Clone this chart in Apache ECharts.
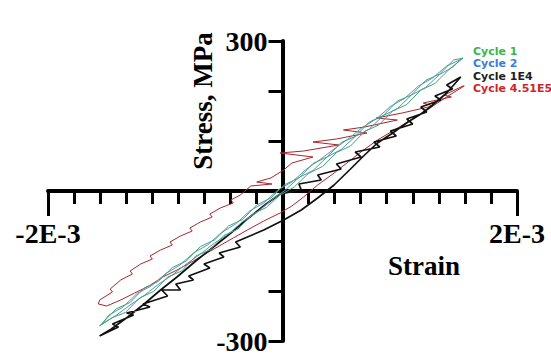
<!DOCTYPE html>
<html>
<head>
<meta charset="utf-8">
<script src="https://cdn.jsdelivr.net/npm/echarts@6/dist/echarts.min.js"></script>
<style>html,body{margin:0;padding:0;background:#fff}#c{width:551px;height:355px}</style>
</head>
<body>
<div id="c"></div>
<script>
// Strain values are in units of 1E-3, stress in MPa
const xTickLabels = ['-2E-3', '2E-3'];
const yTickLabels = ['-300', '300'];
const seriesNames = ['Cycle 1', 'Cycle 2', 'Cycle 1E4', 'Cycle 4.51E5'];

const cycle1Strain = [-1.56,-1.45,-1.34,-1.22,-1.10,-0.98,-0.86,-0.74,-0.62,-0.50,-0.38,-0.26,-0.14,-0.02,0.10,0.22,0.34,0.46,0.58,0.70,0.82,0.94,1.06,1.18,1.30,1.42,1.54,
  1.46,1.34,1.22,1.10,0.98,0.86,0.74,0.62,0.50,0.38,0.26,0.14,0.02,-0.10,-0.22,-0.34,-0.46,-0.58,-0.70,-0.82,-0.94,-1.06,-1.18,-1.30,-1.42,-1.56];
const cycle1Stress = [-270,-253,-243,-214,-201,-172,-160,-130,-118,-89,-76,-47,-33,-8,8,35,49,77,90,119,132,160,173,202,215,243,266,
  262,234,221,192,180,151,138,109,97,68,55,26,13,-14,-28,-57,-70,-98,-111,-140,-153,-181,-194,-223,-236,-270];

const cycle2Strain = [-1.54,-1.42,-1.30,-1.18,-1.06,-0.94,-0.82,-0.70,-0.58,-0.46,-0.34,-0.22,-0.10,0.02,0.14,0.26,0.38,0.50,0.62,0.74,0.86,0.98,1.10,1.22,1.34,1.46,1.52,
  1.40,1.28,1.16,1.04,0.92,0.80,0.68,0.56,0.44,0.32,0.20,0.08,-0.04,-0.16,-0.28,-0.40,-0.52,-0.64,-0.76,-0.88,-1.00,-1.12,-1.24,-1.36,-1.48,-1.54];
const cycle2Stress = [-266,-249,-228,-209,-187,-168,-146,-126,-104,-86,-61,-43,-19,1,27,41,68,83,109,124,151,165,192,207,233,249,263,
  250,226,210,185,169,144,127,104,84,63,43,18,2,-24,-40,-66,-83,-108,-124,-149,-166,-190,-205,-232,-248,-266];

const cycle1E4Strain = [-1.56,-1.40,-1.45,-1.27,-1.33,-1.13,-1.19,-0.98,-1.03,-0.87,-0.91,-0.76,-0.80,-0.62,-0.67,-0.50,-0.54,-0.36,-0.40,-0.16,0.01,0.16,0.30,0.44,0.58,0.70,0.81,0.94,1.07,1.18,1.26,1.40,1.52,
  1.40,1.45,1.30,1.35,1.18,1.23,1.06,1.11,0.92,0.97,0.78,0.83,0.62,0.67,0.46,0.50,0.30,0.33,0.14,0.16,-0.02,-0.14,-0.30,-0.44,-0.60,-0.74,-0.90,-1.04,-1.18,-1.32,-1.46,-1.56];
const cycle1E4Stress = [-290,-272,-266,-248,-244,-232,-226,-210,-198,-198,-186,-178,-170,-154,-146,-132,-124,-112,-102,-78,-58,-38,-14,12,44,72,96,116,138,154,168,196,228,
  212,204,190,182,168,158,144,134,120,110,98,88,78,68,54,44,32,22,14,2,-6,-26,-56,-84,-114,-140,-172,-198,-226,-252,-276,-290];

const cycle451E5Strain = [-1.57,-1.50,-1.38,-1.26,-1.14,-1.02,-0.90,-0.79,-0.66,-0.54,-0.42,-0.30,-0.16,-0.02,0.08,0.18,0.30,0.44,0.56,0.68,0.81,0.94,1.08,1.22,1.36,1.48,1.55,
  1.54,1.38,1.44,1.20,1.28,1.02,0.80,0.98,0.70,0.52,0.72,0.46,0.26,0.48,0.18,-0.02,0.26,0.08,0.01,-0.10,-0.22,-0.09,-0.27,-0.36,
  -0.44,-0.42,-0.53,-0.62,-0.60,-0.70,-0.79,-0.77,-0.87,-0.96,-0.94,-1.04,-1.13,-1.11,-1.21,-1.30,-1.28,-1.38,-1.47,-1.45,-1.56,-1.57];
const cycle451E5Stress = [-226,-230,-218,-204,-190,-172,-158,-144,-126,-110,-94,-78,-60,-44,-30,-12,12,36,58,80,102,120,140,160,182,200,210,
  210,192,188,176,170,156,146,142,128,122,116,104,98,92,80,76,68,56,42,26,18,14,10,-8,
  -18,-24,-34,-46,-52,-62,-74,-80,-90,-102,-108,-118,-130,-136,-146,-160,-166,-178,-196,-202,-218,-226];

const lineColors = ['#3fa56c', '#5a8fc0', '#111111', '#a8262b'];
const legendColors = ['#3cb54a', '#3b7dd8', '#1e1e1e', '#d2232a'];
const lineWidths = [1, 1, 1.7, 1];

// Convert strain (1E-3) into axis units: axis spans -9..9 for -2E-3..2E-3 (tick every 2E-3/9)
const U = 9 / 2;
function pairs(sx, sy) { return sx.map((v, i) => [v * U, sy[i]]); }

const strainSets = [cycle1Strain, cycle2Strain, cycle1E4Strain, cycle451E5Strain];
const stressSets = [cycle1Stress, cycle2Stress, cycle1E4Stress, cycle451E5Stress];
const drawOrder = [3, 2, 1, 0];

const GL = 48, GR = 34, GT = 41, GB = 14, W = 551, H = 355;
const gridW = W - GL - GR, gridH = H - GT - GB;

const serif = '"Liberation Serif", "Times New Roman", serif';
const chart = echarts.init(document.getElementById('c'), null, {renderer: 'svg'});
chart.setOption({
  animation: false,
  backgroundColor: '#fff',
  grid: {left: GL, right: GR, top: GT, bottom: GB, containLabel: false, outerBoundsMode: 'none'},
  xAxis: [
    {type: 'value', min: -9, max: 9, interval: 1, position: 'bottom', offset: -gridH / 2,
     axisLine: {onZero: false, lineStyle: {color: '#000', width: 4}},
     axisTick: {length: 13, lineStyle: {color: '#000', width: 3}},
     axisLabel: {show: false}, splitLine: {show: false}},
    {type: 'value', min: -9, max: 9, interval: 18, position: 'bottom', offset: -gridH / 2,
     axisLine: {show: false, onZero: false},
     axisTick: {length: 25, lineStyle: {color: '#000', width: 3}},
     axisLabel: {margin: 28, color: '#000', fontFamily: serif, fontWeight: 'bold', fontSize: 28,
       formatter: v => v === -9 ? xTickLabels[0] : (v === 9 ? xTickLabels[1] : '')},
     splitLine: {show: false}}
  ],
  yAxis: {type: 'value', min: -300, max: 300, interval: 100, position: 'left', offset: -gridW / 2,
    axisLine: {onZero: false, lineStyle: {color: '#000', width: 4}},
    axisTick: {length: 14, lineStyle: {color: '#000', width: 3}},
    axisLabel: {margin: 15, color: '#000', fontFamily: serif, fontWeight: 'bold', fontSize: 28,
      formatter: v => v === -300 ? yTickLabels[0] : (v === 300 ? yTickLabels[1] : '')},
    splitLine: {show: false}},
  legend: {
    data: seriesNames.map((n, i) => ({name: n, textStyle: {color: legendColors[i]}})),
    orient: 'vertical', left: 468, top: 45, padding: 0,
    icon: 'none', itemWidth: 0, itemHeight: 12, itemGap: 1,
    textStyle: {fontFamily: '"DejaVu Sans", sans-serif', fontWeight: 'bold', fontSize: 11},
    selectedMode: false
  },
  graphic: [
    {type: 'text', x: 203, y: 101, rotation: Math.PI / 2,
     style: {text: 'Stress, MPa', font: 'bold 27px ' + serif, fill: '#000', textAlign: 'center', textVerticalAlign: 'middle'}},
    {type: 'text', x: 424, y: 266,
     style: {text: 'Strain', font: 'bold 27px ' + serif, fill: '#000', textAlign: 'center', textVerticalAlign: 'middle'}}
  ],
  series: drawOrder.map(i => ({
    name: seriesNames[i], type: 'line', xAxisIndex: 0, yAxisIndex: 0,
    data: pairs(strainSets[i], stressSets[i]),
    showSymbol: false, symbol: 'none', smooth: false,
    lineStyle: {color: lineColors[i], width: lineWidths[i]},
    itemStyle: {color: lineColors[i]}, z: 1
  }))
});
</script>
</body>
</html>
